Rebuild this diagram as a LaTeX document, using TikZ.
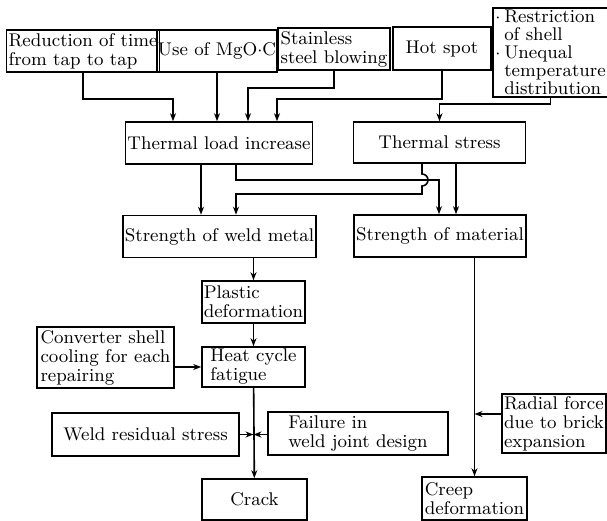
\documentclass[tikz,border=0pt]{standalone}
\usetikzlibrary{arrows.meta}
\tikzset{
  box/.style = {draw, thick, align=left, inner sep=1pt, font=\fontsize{9.2}{9.5}\selectfont},
  arr/.style = {thick, -{Stealth[length=4pt,width=3pt]}},
  ln/.style  = {thick}
}
\newcommand{\itemdot}{\makebox[4.5pt][l]{$\cdot$}}
\newcommand{\itemgap}{\hspace*{4.5pt}}
\begin{document}
\begin{tikzpicture} [x = 0.5pt, y = -0.5pt]
    \useasboundingbox (0, 0) rectangle (607, 521);

    % Ursachen oben
    \node [box, minimum width=74, minimum height=21]  (red) at (83, 51) {Reduction of time\\from tap to tap};
    \node [box, minimum width=56, minimum height=21, inner sep=0.5pt] (mgo) at (217, 51) {Use of MgO$\cdot$C};
    \node [box, minimum width=56, minimum height=21]  (sst) at (334, 49) {Stainless\\steel blowing};
    \node [box, minimum width=49, minimum height=21.5] (hot) at (442, 48.5) {Hot spot};
    \node [box, minimum width=54.5, minimum height=44.5, font=\fontsize{9.2}{9}\selectfont] (res) at (550.5, 52.5)
        {\itemdot Restriction\\\itemgap of shell\\\itemdot Unequal\\\itemgap temperature\\\itemgap distribution};

    % Zweite Ebene
    \node [box, minimum width=92, minimum height=21]   (tli) at (219, 143) {Thermal load increase};
    \node [box, minimum width=86, minimum height=20.5] (ts)  at (439.5, 142.5) {Thermal stress};

    % Festigkeit
    \node [box, minimum width=92.5, minimum height=21] (swm) at (219.5, 236.5) {Strength of weld metal};
    \node [box, minimum width=86, minimum height=21]   (som) at (440, 236) {Strength of material};

    % Linker Zweig
    \node [box, minimum width=51.5, minimum height=21]   (pd)  at (253.5, 302) {Plastic\\deformation};
    \node [box, minimum width=51.5, minimum height=20]   (hcf) at (253.5, 367) {Heat cycle\\fatigue};
    \node [box, minimum width=68.5, minimum height=30.5] (csc) at (105.5, 357.5) {Converter shell\\cooling for each\\repairing};
    \node [box, minimum width=93.5, minimum height=21.5, align=center] (wrs) at (145.5, 434.5) {Weld residual stress};
    \node [box, minimum width=90, minimum height=21.5]   (fwj) at (358, 433.5) {Failure in\\weld joint design};
    \node [box, minimum width=52.5, minimum height=20.5, align=center] (crk) at (254.5, 499.5) {Crack};

    % Rechter Zweig
    \node [box, minimum width=52.5, minimum height=21.5] (crp) at (474.5, 498.5) {Creep\\deformation};
    \node [box, minimum width=52, minimum height=29.5]   (rad) at (554, 423.5) {Radial force\\due to brick\\expansion};

    % Pfeile zu "Thermal load increase"
    \draw[arr] (red.south) |- (173, 99) -- (tli.north -| 173, 0);
    \draw[arr] (mgo.south) -- (mgo.south |- tli.north);
    \draw[arr] (sst.south) |- (248, 88) -- (tli.north -| 248, 0);
    \draw[arr] (hot.south) |- (277, 99) -- (tli.north -| 277, 0);
    \draw[arr] (res.south) -- ++(0, 6) -| (ts.north);

    % Pfeile zur Festigkeit
    \draw[arr] (tli.south -| 201, 0) -- (swm.north -| 201, 0);
    \draw[arr] (tli.south -| 236, 0) |- (439, 180) -- (som.north -| 439, 0);
    \draw[arr] (ts.south -| 422, 0) -- (422, 174) arc [start angle=90, end angle=-90, radius=3pt]
        -- (422, 194) -| (swm.north -| 236, 0);
    \draw[arr] (ts.south -| 456, 0) -- (som.north -| 456, 0);

    % Linker Zweig
    \draw[arr] (swm.south -| pd.north) -- (pd.north);
    \draw[arr] (pd) -- (hcf);
    \draw[arr] (csc.east |- hcf) -- (hcf.west);
    \draw[arr] (hcf) -- (crk);
    \coordinate (j1) at (hcf.south |- wrs.east);
    \draw[arr] (wrs.east) -- (j1);
    \draw[arr] (fwj.west |- j1) -- (j1);

    % Rechter Zweig
    \draw[arr] (som.south -| crp.north) -- (crp.north);
    \coordinate (j2) at (crp.north |- 0, 414);
    \draw[arr] (rad.west |- j2) -- (j2);
\end{tikzpicture}
\end{document}
